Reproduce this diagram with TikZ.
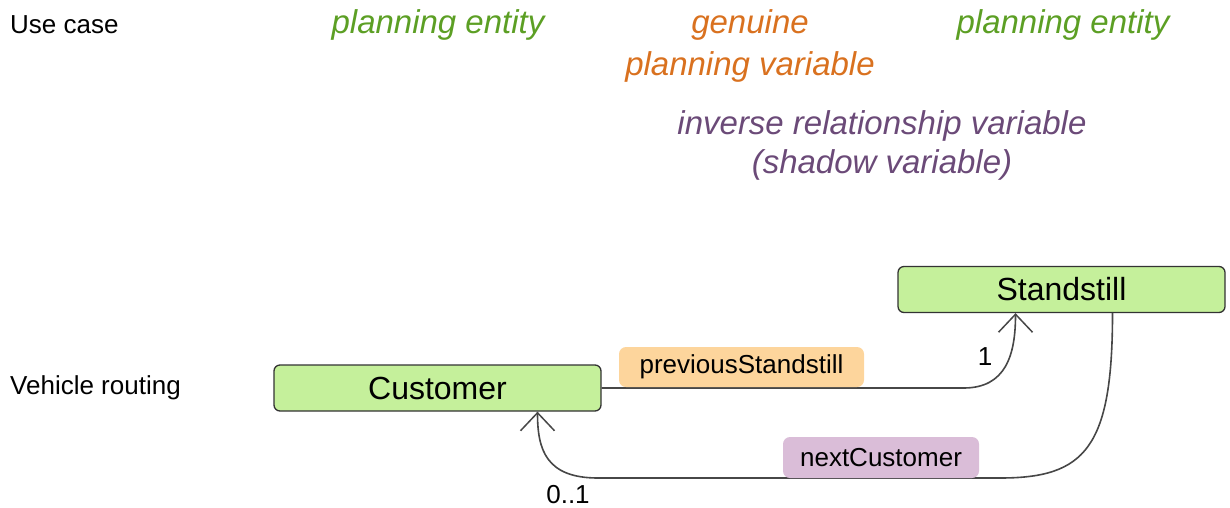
\documentclass[tikz,border=0pt]{standalone}
\usepackage{fontspec}
\setmainfont{Liberation Sans}
\usetikzlibrary{arrows.meta}
\definecolor{entitygreen}{HTML}{5C9F24}
\definecolor{genuineorange}{HTML}{D9711F}
\definecolor{shadowpurple}{HTML}{6B4A78}
\definecolor{boxgreen}{HTML}{C5F09B}
\definecolor{prevfill}{HTML}{FDD59C}
\definecolor{nextfill}{HTML}{DABDD8}
\tikzset{
    rowtitle/.style={anchor=west, inner sep=0pt, font=\fontsize{26}{30}\selectfont},
    roletext/.style={align=center, inner sep=0pt, font=\fontsize{33}{42}\selectfont\itshape},
    classbox/.style={draw=black!80, fill=boxgreen, line width=1.3pt, rounded corners=6pt,
        minimum width=327pt, minimum height=46pt, inner sep=0pt, font=\fontsize{32}{38}\selectfont},
    varlabel/.style={rounded corners=7pt, inner sep=0pt, minimum height=40pt, font=\fontsize{26}{30}\selectfont},
    multtext/.style={inner sep=0pt, font=\fontsize{26}{30}\selectfont},
    link/.style={draw=black!72, line width=1.6pt, -{Straight Barb[length=18pt,width=34pt,line width=1.5pt]}}
}
\begin{document}
\begin{tikzpicture}[x=1pt, y=-1pt]
    \useasboundingbox (0,0) rectangle (1230,507) ;
    % row titles
    \node[rowtitle] (usecase) at (10,25) {Use case} ;
    \node[rowtitle] (routing) at (10,388) {Vehicle routing} ;
    % roles
    \node[roletext, text=entitygreen] (entityleft) at (438,25) {planning entity} ;
    \node[roletext, text=genuineorange] (genuine) at (750,46) {genuine\\planning variable} ;
    \node[roletext, text=entitygreen] (entityright) at (1063,25) {planning entity} ;
    \node[roletext, text=shadowpurple, font=\fontsize{33}{39}\selectfont\itshape] (shadow) at (882,145)
        {inverse relationship variable\\(shadow variable)} ;
    % classes
    \node[classbox] (customer) at (437.5,388) {Customer} ;
    \node[classbox] (standstill) at (1061.5,289.5) {Standstill} ;
    % relations
    \coordinate (prevend) at ([xshift=-46pt]standstill.south) ;
    \coordinate (prevbend) at ([xshift=362pt]customer.east) ;
    \coordinate (nextstart) at ([xshift=51pt]standstill.south) ;
    \coordinate (nextend) at ([xshift=100pt]customer.south) ;
    \coordinate (nextright) at (1000,478) ;
    \coordinate (nextleft) at (598,478) ;
    \draw[link] (customer.east) -- (prevbend) .. controls +(42,0) and +(0,42) .. (prevend) ;
    \draw[link] (nextstart) .. controls +(0,135) and +(85,0) .. (nextright) -- (nextleft)
        .. controls +(-52,0) and +(0,38) .. (nextend) ;
    \node[varlabel, fill=prevfill, minimum width=245pt] (prevlabel) at (741.5,367) {previousStandstill} ;
    \node[varlabel, fill=nextfill, minimum width=196pt, minimum height=41pt] (nextlabel) at (881,457.5) {nextCustomer} ;
    \node[multtext] (one) at (985,357) {1} ;
    \node[multtext] (zeroone) at (568,495) {0..1} ;
\end{tikzpicture}
\end{document}
